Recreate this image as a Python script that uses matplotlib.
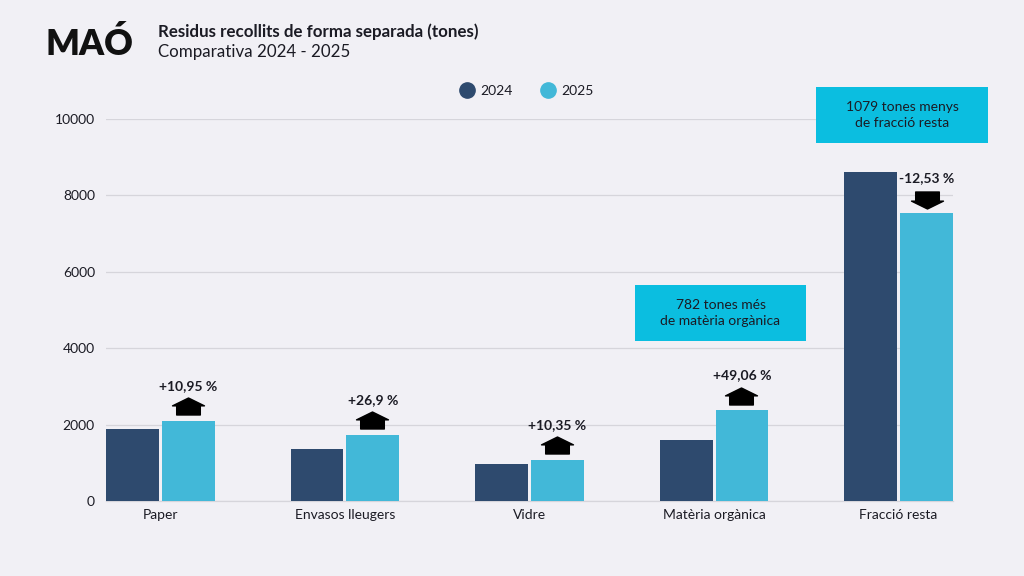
import matplotlib
matplotlib.use("Agg")
import matplotlib.pyplot as plt
import numpy as np
from matplotlib.path import Path
from matplotlib.patches import Rectangle
from matplotlib.lines import Line2D
from matplotlib.transforms import offset_copy

plt.rcParams['font.family'] = ['Lato', 'DejaVu Sans']

categories = ["Paper", "Envasos lleugers", "Vidre", "Matèria orgànica", "Fracció resta"]
values_2024 = [1885, 1361, 969, 1594, 8611]
values_2025 = [2091, 1727, 1069, 2376, 7532]
change_labels = ["+10,95 %", "+26,9 %", "+10,35 %", "+49,06 %", "-12,53 %"]
series_labels = ["2024", "2025"]
yticks = [0, 2000, 4000, 6000, 8000, 10000]

BG = "#F1F0F5"
C24 = "#2E4A6E"
C25 = "#42B8D8"
BOX = "#0BBEE0"
TXT = "#1B1B24"

fig = plt.figure(figsize=(10.24, 5.76), dpi=100, facecolor=BG)
ax = fig.add_axes([106/1024, 1-501/576, 847/1024, (501-119)/576])
ax.set_facecolor(BG)

x = np.arange(len(categories))
w = 0.287
off = 0.295 - w/2
b1 = ax.bar(x - off, values_2024, width=w, color=C24, zorder=3)
b2 = ax.bar(x + off, values_2025, width=w, color=C25, zorder=3)

ax.set_xlim(-0.295, len(categories) - 1 + 0.295)
ax.set_ylim(0, 10000)
ax.set_yticks(yticks)
ax.set_yticklabels([str(v) for v in yticks], fontsize=10, color=TXT)
ax.set_xticks(x)
ax.set_xticklabels(categories, fontsize=10, color=TXT)
ax.tick_params(axis='both', length=0)
ax.tick_params(axis='y', pad=8)
ax.tick_params(axis='x', pad=6)
ax.grid(axis='y', color="#D6D5DB", linewidth=0.9, zorder=0)
for s in ["top", "right", "left"]:
    ax.spines[s].set_visible(False)
ax.spines["bottom"].set_color("#D6D5DB")
ax.spines["bottom"].set_linewidth(0.9)

# arrow markers
up_verts = [(-0.37, -0.266), (0.37, -0.266), (0.37, 0.02), (0.5, 0.02), (0.0, 0.266),
            (-0.5, 0.02), (-0.37, 0.02), (-0.37, -0.266)]
up_path = Path(up_verts, closed=True)
down_path = Path([(vx, -vy) for vx, vy in up_verts], closed=True)

for i, (v24, v25, lab) in enumerate(zip(values_2024, values_2025, change_labels)):
    xi = x[i] + off
    if v25 >= v24:
        tr = offset_copy(ax.transData, fig=fig, x=-0.5, y=10.6, units='points')
        ax.plot([xi], [v25], marker=up_path, markersize=23, color='black',
                transform=tr, clip_on=False, zorder=5)
        trt = offset_copy(ax.transData, fig=fig, x=0, y=25.5, units='points')
    else:
        tr = offset_copy(ax.transData, fig=fig, x=0, y=9.8, units='points')
        ax.plot([xi], [v25], marker=down_path, markersize=23, color='black',
                transform=tr, clip_on=False, zorder=5)
        trt = offset_copy(ax.transData, fig=fig, x=0, y=25.2, units='points')
    ax.text(xi, v25, lab, transform=trt, ha='center', va='center', fontsize=10,
            fontweight='bold', color=TXT, clip_on=False)

# callout boxes
def callout(x0, y0, x1, y1, text):
    fig.patches.append(Rectangle((x0/1024, 1-y1/576), (x1-x0)/1024, (y1-y0)/576,
                                 transform=fig.transFigure, facecolor=BOX,
                                 edgecolor='none', zorder=6))
    fig.text((x0+x1)/2/1024, 1-(y0+y1)/2/576, text, ha='center', va='center',
             fontsize=10, color=TXT, linespacing=1.45, zorder=7)

callout(635, 285, 806, 341, "782 tones més\nde matèria orgànica")
callout(816, 87, 988, 143, "1079 tones menys\nde fracció resta")

# titles
fig.text(46/1024, 1-44/576, "MAÓ", fontsize=25.5, fontweight='heavy', color='#111111',
         ha='left', va='center')
fig.text(158/1024, 1-32/576, "Residus recollits de forma separada (tones)", fontsize=12.2,
         fontweight='bold', color=TXT, ha='left', va='center')
fig.text(158/1024, 1-52/576, "Comparativa 2024 - 2025", fontsize=12.2,
         color=TXT, ha='left', va='center')

# legend
h1 = Line2D([], [], marker='o', linestyle='none', markersize=11, color=C24)
h2 = Line2D([], [], marker='o', linestyle='none', markersize=11, color=C25)
ax.legend(handles=[h1, h2], labels=series_labels, loc='center',
          bbox_to_anchor=((527-106)/847, (501-91)/382), ncol=2, frameon=False,
          fontsize=10, handlelength=1.0, columnspacing=2.0, handletextpad=0.5,
          labelcolor=TXT)

fig.savefig("out.png", dpi=100, facecolor=BG)
